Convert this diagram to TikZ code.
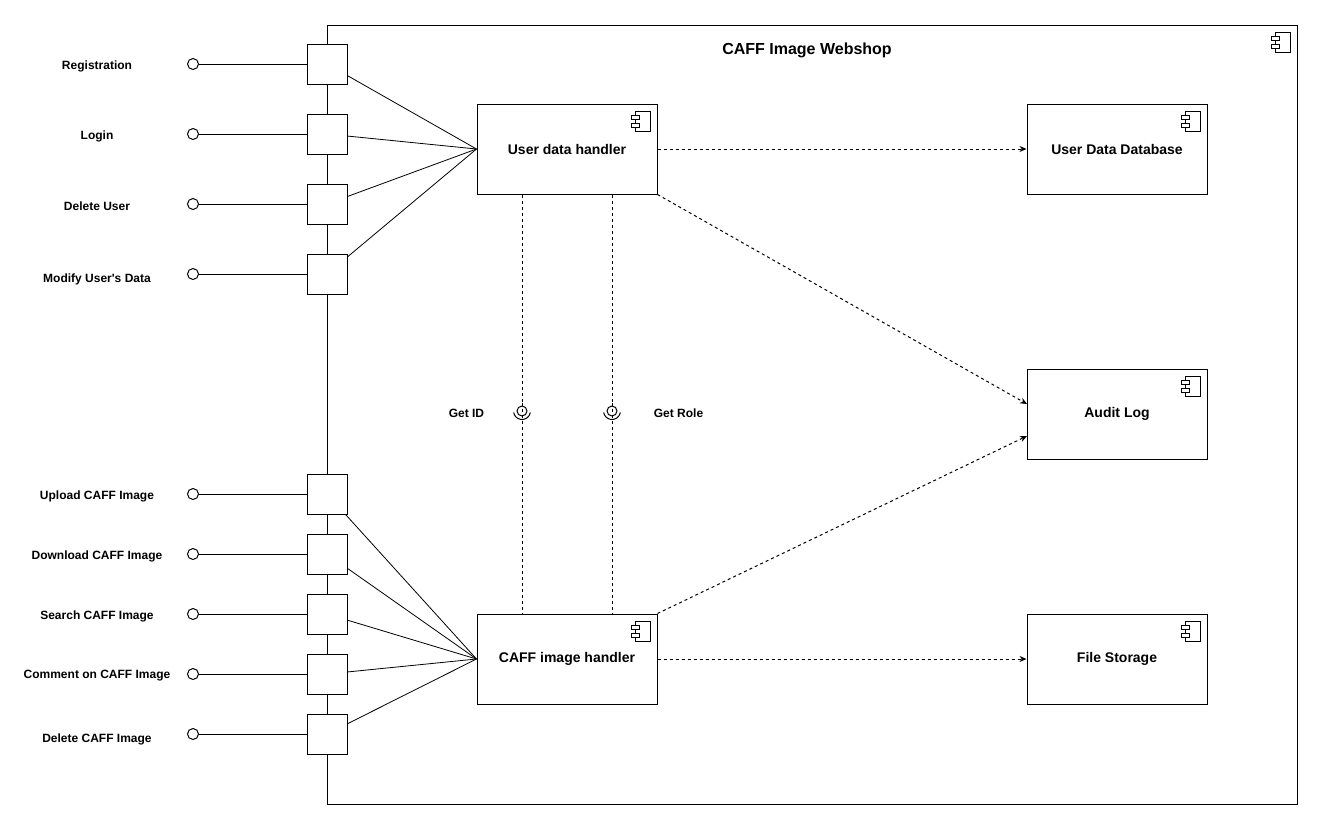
\documentclass[tikz,border=0pt]{standalone}
\usepackage{fontspec}
\setmainfont{Liberation Sans}
\usetikzlibrary{arrows.meta,positioning}
\tikzset{%
    port/.style={draw, fill=white, minimum size=40pt, inner sep=0pt},
    comp/.style={draw, minimum width=180pt, minimum height=90pt, inner sep=0pt,
        font=\fontsize{14}{16}\selectfont\bfseries},
    lbl/.style={font=\fontsize{12}{14}\selectfont\bfseries, yshift=-2pt},
    ball/.style={draw, fill=white, circle, minimum size=10pt, inner sep=0pt},
    dep/.style={dash pattern=on 3pt off 3pt, -{Stealth[length=7pt,width=6pt]}}
}
\newcommand{\compicon}[1]{%
    \draw[shift={(#1.north east)}] (-22,8) rectangle (-7,28);
    \draw[shift={(#1.north east)}, fill=white] (-26,12) rectangle (-18,16);
    \draw[shift={(#1.north east)}, fill=white] (-26,20) rectangle (-18,24);
}

\begin{document}
\begin{tikzpicture}[x=1pt, y=-1pt, line width=1pt]
    \useasboundingbox (0,0) rectangle (1335,822);
%-----------------------------------------------
    \node[draw, minimum width=970pt, minimum height=779pt, inner sep=0pt] (shop) at (812,414.5) {};
    \node[font=\fontsize{16}{18}\selectfont\bfseries] (title) at (807,50) {CAFF Image Webshop};
    \compicon{shop}
%-----------------------------------------------
    \node[comp] (udh) at (567,149) {\raisebox{-1.5pt}{User data handler}};
    \node[comp] (cih) at (567,659) {\raisebox{-1.5pt}{CAFF image handler}};
    \node[comp] (udb) at (1117,149) {\raisebox{-1.5pt}{User Data Database}};
    \node[comp] (alog) at (1117,414) {\raisebox{-1.5pt}{Audit Log}};
    \node[comp] (fst) at (1117,659) {\raisebox{-1.5pt}{File Storage}};
    \foreach \c in {udh,cih,udb,alog,fst} {\compicon{\c}}
%-----------------------------------------------
    \foreach \name/\y/\ly/\txt in {reg/64/64/Registration, login/134/134/Login,
            deluser/204/204/Delete User, moduser/274/277/{Modify User\textquotesingle{}s Data}} {
        \node[port] (p\name) at (327,\y) {};
        \node[ball, minimum size=11pt] (b\name) at (193,\y) {};
        \node[lbl] (l\name) at (97,\ly) {\txt};
        \draw (b\name) -- (p\name);
        \draw[line width=0.8pt] (p\name) -- (udh.west);
    }
    \foreach \name/\y/\ly/\txt in {upload/494/494/Upload CAFF Image,
            download/554/554/Download CAFF Image, search/614/614/Search CAFF Image,
            comment/674/674/Comment on CAFF Image, delimg/734/737/Delete CAFF Image} {
        \node[port] (p\name) at (327,\y) {};
        \node[ball, minimum size=11pt] (b\name) at (193,\y) {};
        \node[lbl] (l\name) at (97,\ly) {\txt};
        \draw (b\name) -- (p\name);
        \draw[line width=0.8pt] (p\name) -- (cih.west);
    }
%-----------------------------------------------
    \coordinate (ain) at (1027,404);
    \coordinate (aout) at (1027,436);
    \draw[dep] (udh.east) -- (udb.west);
    \draw[dep] (udh.south east) -- (ain);
    \draw[dep] (cih.north east) -- (aout);
    \draw[dep] (cih.east) -- (fst.west);
%-----------------------------------------------
    \node[ball] (sid) at (522,411) {};
    \node[ball] (srole) at (612,411) {};
    \foreach \s in {sid,srole} {
        \draw[dash pattern=on 3pt off 3pt] (\s |- udh.south) -- (\s.north);
        \draw[shift={(\s.center)}] (10:8.5) arc[start angle=10, end angle=170, radius=8.5];
        \draw[dash pattern=on 3pt off 3pt] ([yshift=8.5pt]\s.center) -- (\s |- cih.north);
    }
    \node[lbl, left=34pt of sid.center, anchor=east] (lid) {Get ID};
    \node[lbl, right=38pt of srole.center, anchor=west] (lrole) {Get Role};
\end{tikzpicture}
\end{document}
